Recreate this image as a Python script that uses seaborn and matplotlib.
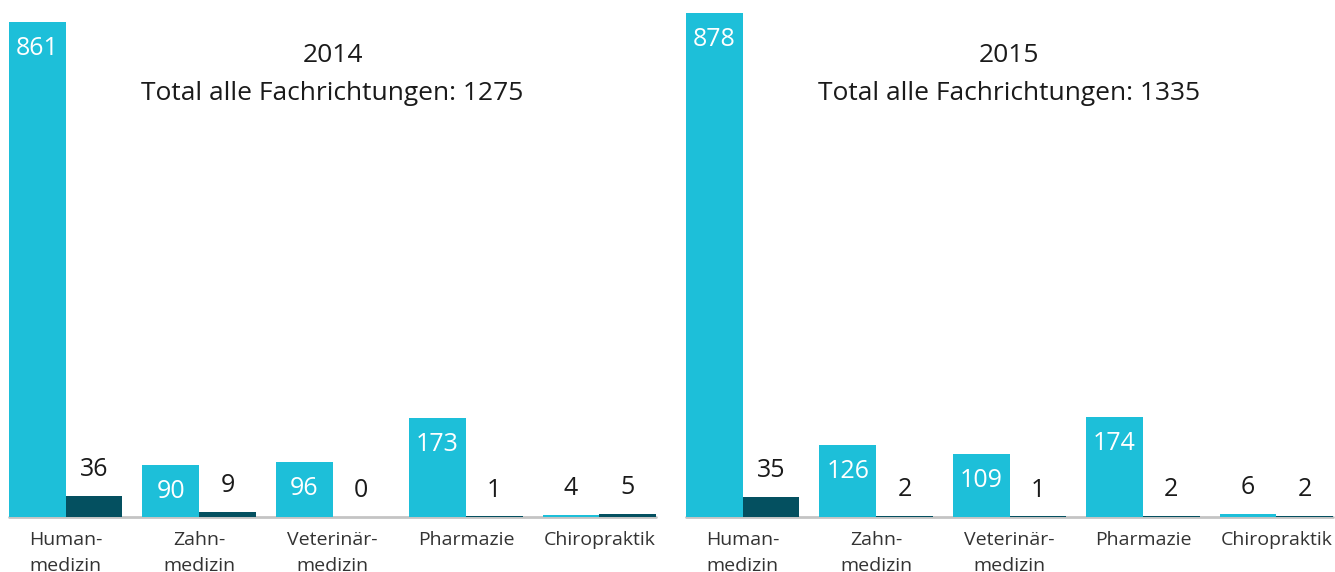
import numpy as np
import pandas as pd
import matplotlib.pyplot as plt
import seaborn as sns

faecher = ["Human-\nmedizin", "Zahn-\nmedizin", "Veterinär-\nmedizin", "Pharmazie", "Chiropraktik"]
jahre = [2014, 2015]
totals = [1275, 1335]
werte_hell = {2014: [861, 90, 96, 173, 4], 2015: [878, 126, 109, 174, 6]}
werte_dunkel = {2014: [36, 9, 0, 1, 5], 2015: [35, 2, 1, 2, 2]}

hell = "#1dbfd9"
dunkel = "#045060"

sns.set_theme(style="white")
plt.rcParams['font.family'] = ['Open Sans', 'DejaVu Sans']

fig = plt.figure(figsize=(13.35, 5.72), dpi=100)
W, H = 1335, 572
axes = [fig.add_axes([9 / W, 55 / H, 647 / W, 517 / H]),
        fig.add_axes([686 / W, 55 / H, 647 / W, 517 / H])]

for ax, jahr, total in zip(axes, jahre, totals):
    df = pd.DataFrame({
        "Fach": faecher * 2,
        "Anzahl": werte_hell[jahr] + werte_dunkel[jahr],
        "Serie": ["hell"] * 5 + ["dunkel"] * 5,
    })
    ax.axhline(0, color="#c4c4c4", lw=2, zorder=0, clip_on=False)
    sns.barplot(data=df, x="Fach", y="Anzahl", hue="Serie", palette=[hell, dunkel],
                width=0.85, gap=0, saturation=1, legend=False, ax=ax, zorder=2,
                linewidth=0, edgecolor="none")
    ax.set_ylim(0, 900)
    ax.set_xlim(-0.425, 4.425)
    ax.set_xlabel("")
    ax.set_ylabel("")
    ax.set_yticks([])
    sns.despine(ax=ax, left=True, bottom=True)
    ax.tick_params(axis="x", length=0, pad=10, labelsize=14, labelcolor="#333333")
    for lab in ax.get_xticklabels():
        lab.set_linespacing(1.55)

    for cont, vals in zip(ax.containers, [werte_hell[jahr], werte_dunkel[jahr]]):
        for bar, v in zip(cont, vals):
            xc = bar.get_x() + bar.get_width() / 2
            if v > 50:
                ax.annotate(str(v), (xc, v), xytext=(0, -19), textcoords="offset points",
                            ha="center", va="center", color="white", fontsize=18)
            else:
                ax.annotate(str(v), (xc, v), xytext=(0, 19), textcoords="offset points",
                            ha="center", va="center", color="#1a1a1a", fontsize=18)

    ax.text(0.5, 1 - 55 / 517, str(jahr), transform=ax.transAxes, ha="center",
            va="center", fontsize=19, color="#1a1a1a")
    ax.text(0.5, 1 - 93 / 517, "Total alle Fachrichtungen: {}".format(total),
            transform=ax.transAxes, ha="center", va="center", fontsize=19, color="#1a1a1a")

fig.savefig("out.png", dpi=100)
